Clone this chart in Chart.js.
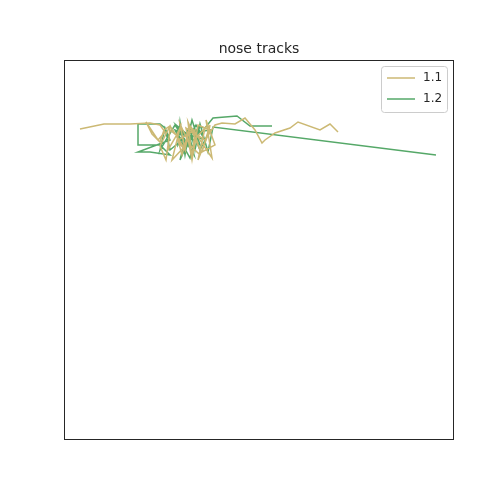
<!DOCTYPE html>
<html><head><script src="https://cdn.jsdelivr.net/npm/chart.js@4"></script>
<style>body{margin:0;background:#fff}#wrap{width:504px;height:504px}</style></head>
<body><div id="wrap"><canvas id="c" width="504" height="504"></canvas></div>
<script>
// track 1.1 (x, y in image-space units)
const track1X = [80,104,130,150,160,165,158,150,146,152,160,164,170,168,175,180,172,186,190,182,178,195,192,188,200,196,205,198,208,210,202,215,206,212,200,195,190,185,180,176,170,166,160,170,178,185,180,190,200,210,198,192,186,205,215,222,235,245,255,262,265,275,290,298,320,330,338];
const track1Y = [129,124,124,123,125,132,140,128,122,134,142,130,126,150,138,128,160,145,126,155,140,130,158,122,150,138,128,160,135,125,152,145,120,158,140,132,126,150,144,135,130,160,146,126,138,150,124,145,155,130,125,160,128,140,125,123,124,118,130,143,140,133,128,122,130,124,132];
// track 1.2
const track2X = [436,213,208,200,195,190,185,180,178,188,194,182,176,200,192,185,198,190,180,175,205,196,186,178,210,200,190,182,170,165,160,138,138,160,170,150,138,170,165,160,175,185,180,195,205,213,237,250,272];
const track2Y = [155,127,152,124,150,128,155,122,145,130,155,135,125,145,120,150,128,158,140,130,140,125,145,135,130,150,126,140,150,128,124,124,145,145,155,152,152,140,128,150,125,140,160,126,128,118,116,126,126];

const pts = (xs, ys) => xs.map((x, i) => ({ x, y: ys[i] }));

// frame, title and legend drawn like matplotlib
const decor = {
  id: 'decor',
  afterDraw(chart) {
    const { ctx, chartArea: a } = chart;
    ctx.save();
    ctx.strokeStyle = '#262626'; ctx.lineWidth = 1;
    ctx.strokeRect(a.left + 0.5, a.top + 0.5, a.right - a.left - 1, a.bottom - a.top - 1);
    ctx.fillStyle = '#262626'; ctx.font = '14px "DejaVu Sans"';
    ctx.textAlign = 'center'; ctx.textBaseline = 'alphabetic';
    ctx.fillText('nose tracks', (a.left + a.right) / 2, a.top - 7);
    const bx = 381, by = 66, bw = 66, bh = 46;
    ctx.strokeStyle = '#cccccc'; ctx.fillStyle = 'rgba(255,255,255,0.8)';
    ctx.beginPath(); ctx.roundRect(bx + 0.5, by + 0.5, bw, bh, 3); ctx.fill(); ctx.stroke();
    ctx.font = '12px "DejaVu Sans"'; ctx.textAlign = 'left'; ctx.textBaseline = 'middle';
    chart.data.datasets.forEach((d, i) => {
      const y = by + 12 + i * 21;
      ctx.strokeStyle = d.borderColor; ctx.lineWidth = 1.5;
      ctx.beginPath(); ctx.moveTo(bx + 6, y); ctx.lineTo(bx + 34, y); ctx.stroke();
      ctx.fillStyle = '#262626'; ctx.fillText(d.label, bx + 42, y);
    });
    ctx.restore();
  }
};

new Chart(document.getElementById('c'), {
  type: 'scatter',
  data: {
    datasets: [
      { label: '1.1', data: pts(track1X, track1Y), showLine: true, borderColor: '#ccb974', backgroundColor: '#ccb974', borderWidth: 1.5, pointRadius: 0, tension: 0 },
      { label: '1.2', data: pts(track2X, track2Y), showLine: true, borderColor: '#55a868', backgroundColor: '#55a868', borderWidth: 1.5, pointRadius: 0, tension: 0 }
    ]
  },
  options: {
    responsive: false, animation: false,
    layout: { padding: { left: 64, right: 50, top: 60, bottom: 64 } },
    scales: {
      x: { display: false, min: 64, max: 454 },
      y: { display: false, min: 60, max: 440, reverse: true }
    },
    plugins: { legend: { display: false }, title: { display: false }, tooltip: { enabled: false } }
  },
  plugins: [decor]
});
</script></body></html>
